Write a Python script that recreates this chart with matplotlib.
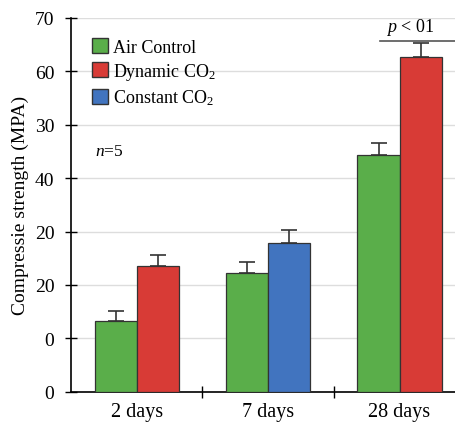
import numpy as np
import matplotlib.pyplot as plt
from matplotlib.patches import Patch

plt.rcParams['font.family'] = ['Liberation Serif', 'DejaVu Serif']
plt.rcParams['mathtext.fontset'] = 'custom'
plt.rcParams['mathtext.rm'] = 'Liberation Serif'
plt.rcParams['mathtext.it'] = 'Liberation Serif:italic'

days = ['2 days', '7 days', '28 days']
# each category holds two bars: (series, mean, sd)
air_mean = [13.3, 22.3, 44.4]
air_err = [1.8, 2.0, 2.2]
second_series = ['Dynamic CO$_2$', 'Constant CO$_2$', 'Dynamic CO$_2$']
second_mean = [23.5, 27.8, 62.7]
second_err = [2.1, 2.5, 2.6]
ytick_vals = [0, 10, 20, 30, 40, 50, 60, 70]
ytick_labels = ['0', '0', '20', '20', '40', '30', '60', '70']

colors = {'Air Control': '#5aae4a',
          'Dynamic CO$_2$': '#d83b36',
          'Constant CO$_2$': '#4174bf'}

fig = plt.figure(figsize=(4.56, 4.27), dpi=100)
ax = fig.add_axes([0.156, 0.08, 0.844, 0.876])

x = np.arange(len(days))
w = 0.32
ax.bar(x - w/2, air_mean, w, color=colors['Air Control'], edgecolor='#333333',
       linewidth=0.9, zorder=3)
ax.bar(x + w/2, second_mean, w, color=[colors[s] for s in second_series],
       edgecolor='#333333', linewidth=0.9, zorder=3)
ax.errorbar(x - w/2, air_mean, yerr=[np.zeros(3), air_err], fmt='none',
            ecolor='#333333', elinewidth=1.2, capsize=6, capthick=1.2, zorder=4)
ax.errorbar(x + w/2, second_mean, yerr=[np.zeros(3), second_err], fmt='none',
            ecolor='#333333', elinewidth=1.2, capsize=6, capthick=1.2, zorder=4)

ax.set_xlim(-0.5, 2.43)
ax.set_ylim(0, 70)
ax.set_yticks(ytick_vals)
ax.set_yticklabels(ytick_labels, fontsize=14)
ax.yaxis.grid(True, color='#dddddd', linewidth=1, zorder=0)
ax.set_xticks([0.5, 1.5])
ax.set_xticks(x, minor=True)
ax.set_xticklabels(['', ''])
ax.set_xticklabels(days, minor=True, fontsize=14.5)
ax.tick_params(axis='x', which='minor', length=0, pad=7)
ax.tick_params(axis='x', which='major', direction='inout', length=8, width=1)
ax.tick_params(axis='y', direction='inout', length=8, width=1, pad=8)
for s in ['top', 'right']:
    ax.spines[s].set_visible(False)
ax.spines['left'].set_linewidth(1.2)
ax.spines['bottom'].set_linewidth(1.2)
ax.set_ylabel('Compressie strength (MPA)', fontsize=14, labelpad=4)

handles = [Patch(facecolor=colors[k], edgecolor='#333333', label=k) for k in colors]
ax.legend(handles=handles, loc='upper left', bbox_to_anchor=(0.025, 0.975),
          frameon=False, fontsize=13, handlelength=0.9, handleheight=0.9,
          handletextpad=0.3, labelspacing=0.3, borderaxespad=0.2)
ax.text(0.062, 0.645, '$n$=5', transform=ax.transAxes, fontsize=12.5, va='center')

# significance bar over 28 days
ax.plot([1.85, 2.43], [65.7, 65.7], color='#555555', linewidth=1.2, clip_on=False)
ax.text(2.08, 68.3, '$p$ < 01', ha='center', va='center', fontsize=13)

fig.savefig('out.png', dpi=100)
